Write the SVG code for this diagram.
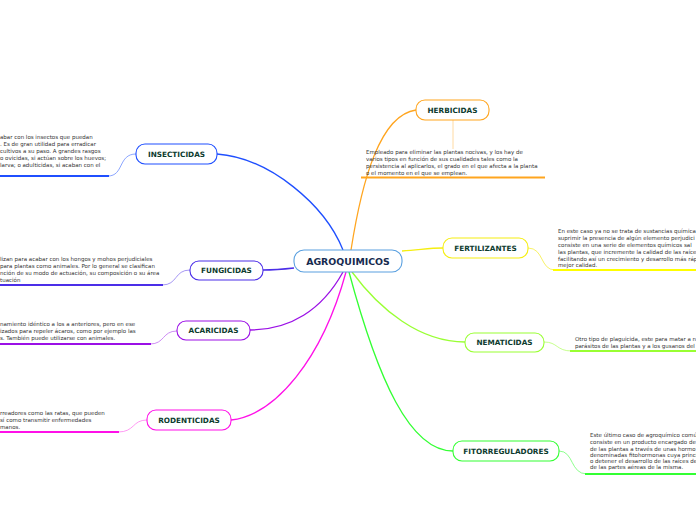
<svg xmlns="http://www.w3.org/2000/svg" width="696" height="520" viewBox="0 0 696 520">
<style>
.bg{fill:#ffffff}
.node{fill:#ffffff;stroke-width:1.1}
.lbl{font-family:"DejaVu Sans",Verdana,sans-serif;font-weight:bold;font-size:7.3px;fill:#0d3b2e;text-anchor:middle}
.main{font-family:"DejaVu Sans",Verdana,sans-serif;font-weight:bold;font-size:9.4px;fill:#162a4f;text-anchor:middle}
.body{font-family:"DejaVu Sans",Verdana,sans-serif;font-size:5.5px;fill:#333333}
.br{fill:none;stroke-width:1.3}
.sub{fill:none;stroke-width:0.8}
.ul{fill:none;stroke-width:2}
</style>
<rect class="bg" x="0" y="0" width="696" height="520"/>
<g id="connectors">
  <path class="br" stroke="#1f4fff" d="M343,250 C325,205 270,158 217,154"/>
  <path class="br" stroke="#ffa51f" d="M351,250 C362,180 380,115 416,110"/>
  <path class="br" stroke="#f5ee10" d="M402,251 C420,250 428,248 443,248"/>
  <path class="br" stroke="#4b2ee8" d="M294,268 C285,269 275,270 263,270"/>
  <path class="br" stroke="#9b10e6" d="M343,272 C322,310 290,330 250,330"/>
  <path class="br" stroke="#ff10e8" d="M346,272 C322,360 275,415 231,420"/>
  <path class="br" stroke="#99ff33" d="M352,272 C380,310 420,342 465,342"/>
  <path class="br" stroke="#33ff33" d="M349,272 C378,380 410,451 453,451"/>
  <path class="sub" stroke="#6f8fff" d="M136,154 C118,154 124,176 108,176"/>
  <path class="sub" stroke="#8f7cf0" d="M190,270 C174,270 178,285 162,285"/>
  <path class="sub" stroke="#c070f0" d="M177,331 C162,331 165,344 150,344"/>
  <path class="sub" stroke="#ff80f0" d="M147,420 C132,420 135,432 118,432"/>
  <path class="sub" stroke="#ffd08a" d="M453,120 L453,149"/>
  <path class="sub" stroke="#f5ee40" d="M528,248 C544,248 540,270 555,270"/>
  <path class="sub" stroke="#b8ff70" d="M544,342 C558,342 556,351 572,351"/>
  <path class="sub" stroke="#70ff70" d="M559,451 C574,451 570,474 587,474"/>
</g>
<g id="n-agro">
  <rect class="node" stroke="#5aa0e0" x="294" y="250" width="108" height="22" rx="10"/>
  <text class="main" x="348" y="264.5">AGROQUIMICOS</text>
</g>
<g id="n-insecticidas">
  <rect class="node" stroke="#1f4fff" x="136" y="144" width="81" height="20" rx="9"/>
  <text class="lbl" x="176.5" y="156.7">INSECTICIDAS</text>
  <text class="body" x="0" y="138.5">abar con los insectos que puedan</text>
  <text class="body" x="0" y="145.5">. Es de gran utilidad para erradicar</text>
  <text class="body" x="0" y="152.5"> cultivos a su paso. A grandes rasgos</text>
  <text class="body" x="0" y="159.5">o ovicidas, si actúan sobre los huevos;</text>
  <text class="body" x="0" y="166.5">larva; o adulticidas, si acaban con el</text>
  <path class="ul" stroke="#1f4fff" d="M0,176 L109,176"/>
</g>
<g id="n-fungicidas">
  <rect class="node" stroke="#4b2ee8" x="190" y="261" width="73" height="19" rx="9"/>
  <text class="lbl" x="226.5" y="273.2">FUNGICIDAS</text>
  <text class="body" x="0" y="261">lizan para acabar con los hongos y mohos perjudiciales</text>
  <text class="body" x="0" y="268"> para plantas como animales. Por lo general se clasifican</text>
  <text class="body" x="0" y="275">nción de su modo de actuación, su composición o su área</text>
  <text class="body" x="0" y="282">tuación</text>
  <path class="ul" stroke="#4b2ee8" d="M0,285 L163,285"/>
</g>
<g id="n-acaricidas">
  <rect class="node" stroke="#9b10e6" x="177" y="321" width="73" height="19" rx="9"/>
  <text class="lbl" x="213.5" y="333.2">ACARICIDAS</text>
  <text class="body" x="0" y="326">namiento idéntico a los a anteriores, pero en ese</text>
  <text class="body" x="0" y="333">izados para repeler ácaros, como por ejemplo las</text>
  <text class="body" x="0" y="340">s. También puede utilizarse con animales.</text>
  <path class="ul" stroke="#9b10e6" d="M0,344 L151,344"/>
</g>
<g id="n-rodenticidas">
  <rect class="node" stroke="#ff10e8" x="147" y="410" width="84" height="20" rx="9"/>
  <text class="lbl" x="189" y="422.7">RODENTICIDAS</text>
  <text class="body" x="0" y="415">rreadores como las ratas, que pueden</text>
  <text class="body" x="0" y="422">sí como transmitir enfermedades</text>
  <text class="body" x="0" y="429">manos.</text>
  <path class="ul" stroke="#ff10e8" d="M0,432 L119,432"/>
</g>
<g id="n-herbicidas">
  <rect class="node" stroke="#ffa51f" x="416" y="100" width="73" height="20" rx="9"/>
  <text class="lbl" x="452.5" y="112.7">HERBICIDAS</text>
  <text class="body" x="366" y="154">Empleado para eliminar las plantas nocivas, y los hay de</text>
  <text class="body" x="366" y="161">varios tipos en función de sus cualidades tales como la</text>
  <text class="body" x="366" y="168">persistencia al aplicarlos, el grado en el que afecta a la planta</text>
  <text class="body" x="366" y="175">o el momento en el que se emplean.</text>
  <path class="ul" stroke="#ffa51f" d="M361,177.5 L545,177.5"/>
</g>
<g id="n-fertilizantes">
  <rect class="node" stroke="#f5ee10" x="443" y="238" width="85" height="20" rx="9"/>
  <text class="lbl" x="485.5" y="250.7">FERTILIZANTES</text>
  <text class="body" x="558" y="233">En este caso ya no se trata de sustancias química</text>
  <text class="body" x="558" y="240">suprimir la presencia de algún elemento perjudici</text>
  <text class="body" x="558" y="247">consiste  en una serie de elementos químicos sal</text>
  <text class="body" x="558" y="254">las plantas, que incremente la calidad de las raíce</text>
  <text class="body" x="558" y="261">facilitando así un crecimiento y desarrollo más ráp</text>
  <text class="body" x="558" y="267">mejor calidad.</text>
  <path class="ul" stroke="#ffff00" d="M553,270 L696,270"/>
</g>
<g id="n-nematicidas">
  <rect class="node" stroke="#99ff33" x="465" y="333" width="79" height="19" rx="9"/>
  <text class="lbl" x="504.5" y="345.2">NEMATICIDAS</text>
  <text class="body" x="575" y="341">Otro tipo de plaguicida, este para matar a n</text>
  <text class="body" x="575" y="348">parásitos de las plantas y a los gusanos del</text>
  <path class="ul" stroke="#99ff33" d="M570,351 L696,351"/>
</g>
<g id="n-fitorreguladores">
  <rect class="node" stroke="#33ff33" x="453" y="441" width="106" height="20" rx="9"/>
  <text class="lbl" x="506" y="453.7">FITORREGULADORES</text>
  <text class="body" x="590" y="437">Este último caso de agroquímico comú</text>
  <text class="body" x="590" y="444">consiste en un producto encargado de</text>
  <text class="body" x="590" y="451">de las plantas a través de unas hormo</text>
  <text class="body" x="590" y="457">denominadas fitohormonas cuya princi</text>
  <text class="body" x="590" y="463">o detener el desarrollo de las raíces de</text>
  <text class="body" x="590" y="469">de las partes aéreas de la misma.</text>
  <path class="ul" stroke="#33ff33" d="M585,474 L696,474"/>
</g>
</svg>
